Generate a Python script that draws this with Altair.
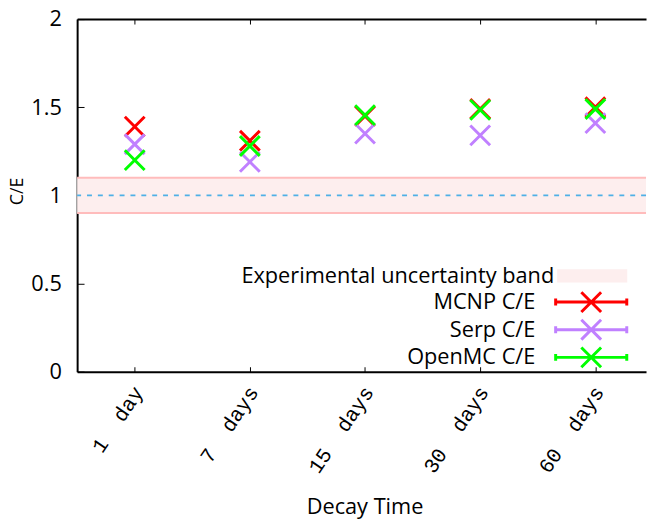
import json
import altair as alt
import pandas as pd

# ---- data ----
decay_times = ["1\u00a0 day", "7\u00a0 days", "15\u00a0 days", "30\u00a0 days", "60\u00a0 days"]
series_names = ["MCNP C/E", "Serp C/E", "OpenMC C/E"]
mcnp_ce = [1.39, 1.31, 1.45, 1.49, 1.50]
serp_ce = [1.29, 1.19, 1.35, 1.34, 1.41]
openmc_ce = [1.20, 1.28, 1.455, 1.485, 1.49]
series_colors = ["#ff0000", "#c080ff", "#00ff00"]
band_label = ["Experimental uncertainty band"]
band_low = [0.9]
band_high = [1.1]
reference_line = [1.0]
y_ticks = [0, 0.5, 1, 1.5, 2]
x_ticks = list(range(len(decay_times)))

# ---- tables ----
rows = []
for k, (name, vals) in enumerate(zip(series_names, [mcnp_ce, serp_ce, openmc_ce])):
    for i, v in enumerate(vals):
        rows.append({"series": name, "idx": i, "value": v, "order": k})
df = pd.DataFrame(rows)
band_df = pd.DataFrame({"label": band_label, "lo": band_low, "hi": band_high})
ref_df = pd.DataFrame({"ref": reference_line})

W, H = 576, 357
FONT = "Open Sans"
X_PATH = "M-1,-1L1,1M-1,1L1,-1"
# legend samples drawn to the right of the label (label on the left, gnuplot style)
EB_PATH = "M3.2,0H10.4M3.2,-0.35V0.35M10.4,-0.35V0.35M5.8,-1L7.8,1M5.8,1L7.8,-1"
RECT_PATH = "M1.4,-0.67H8.5V0.67H1.4Z"

xscale = alt.Scale(domain=[-0.5, 4.44], nice=False, zero=False)
yscale = alt.Scale(domain=[0, 2], nice=False, zero=False)
label_expr = json.dumps(decay_times, ensure_ascii=False) + "[datum.value]"

x_axis_main = alt.Axis(
    values=x_ticks, labelExpr=label_expr, labelAngle=304, labelAlign="right",
    labelBaseline="middle", labelFont="Liberation Mono", labelFontSize=21,
    labelColor="black", labelPadding=17, labelOffset=4, ticks=False, tickSize=0,
    domainColor="black", domainWidth=2, grid=False, labelOverlap=False,
    labelFlush=False, labelBound=False,
    title="Decay Time", titleFont=FONT, titleFontSize=22, titleFontWeight="normal",
    titleColor="black", titleX=291, titleY=144, titleBaseline="alphabetic",
)
y_axis_main = alt.Axis(
    values=y_ticks, format=".1~f", labelFont=FONT, labelFontSize=22,
    labelColor="black", labelPadding=16, ticks=False, tickSize=0,
    domainColor="black", domainWidth=2, grid=False, labelFlush=False,
    labelOverlap=False,
    title="C/E", titleFont=FONT, titleFontSize=18, titleFontWeight="normal",
    titleColor="black", titleX=-55, titleY=174, titleBaseline="alphabetic",
    titleAngle=270,
)

band = alt.Chart(band_df).mark_rect(opacity=1).encode(
    y=alt.Y("lo:Q", scale=yscale, axis=None),
    y2="hi:Q",
    fill=alt.Fill(
        "label:N", scale=alt.Scale(domain=band_label, range=["#fdeeee"]),
        legend=alt.Legend(
            title=None, orient="none", legendX=461, legendY=249, padding=0,
            symbolType=RECT_PATH, symbolSize=400, symbolStrokeWidth=0,
            labelFont=FONT, labelFontSize=22, labelColor="black",
            labelAlign="right", labelOffset=0, labelLimit=600,
        ),
    ),
)
band_lo = alt.Chart(band_df).mark_rule(color="#ffbcbc", strokeWidth=2).encode(
    y=alt.Y("lo:Q", scale=yscale, axis=None))
band_hi = alt.Chart(band_df).mark_rule(color="#ffbcbc", strokeWidth=2).encode(
    y=alt.Y("hi:Q", scale=yscale, axis=None))
ref = alt.Chart(ref_df).mark_rule(color="#4eb0e6", strokeWidth=2, strokeDash=[5, 6]).encode(
    y=alt.Y("ref:Q", scale=yscale, axis=None))

points = alt.Chart(df).mark_point(
    shape=X_PATH, size=400, filled=False, strokeWidth=3, opacity=1
).encode(
    x=alt.X("idx:Q", scale=xscale, axis=x_axis_main),
    y=alt.Y("value:Q", scale=yscale, axis=y_axis_main),
    color=alt.Color(
        "series:N", sort=series_names,
        scale=alt.Scale(domain=series_names, range=series_colors),
        legend=alt.Legend(
            title=None, orient="none", legendX=441, legendY=275, padding=0,
            symbolType=EB_PATH, symbolSize=400, symbolStrokeWidth=3,
            symbolFillColor="transparent", labelFont=FONT, labelFontSize=22,
            labelColor="black", labelAlign="right", labelOffset=0,
            labelLimit=600, rowPadding=-7,
        ),
    ),
    order=alt.Order("order:Q"),
)

tick_base = alt.Chart(df).mark_point(opacity=0)
inner_ticks = tick_base.encode(
    x=alt.X("idx:Q", scale=xscale, axis=alt.Axis(
        orient="top", offset=-H, values=x_ticks, labels=False, domain=False,
        tickSize=5, tickColor="black", grid=False, title="")),
    y=alt.Y("value:Q", scale=yscale, axis=alt.Axis(
        orient="right", offset=-W, values=y_ticks, labels=False, domain=False,
        tickSize=7, tickColor="black", grid=False, title="")),
)
top_border = tick_base.encode(
    x=alt.X("idx:Q", scale=xscale, axis=alt.Axis(
        orient="bottom", offset=-H, values=x_ticks, labels=False, domain=True,
        domainColor="black", domainWidth=2, tickSize=5, tickColor="black",
        grid=False, title="")),
    y=alt.Y("value:Q", scale=yscale, axis=None),
)

chart = alt.layer(band, band_lo, band_hi, ref, points, inner_ticks, top_border).resolve_axis(
    x="independent", y="independent"
).properties(
    width=W, height=H,
    autosize=alt.AutoSizeParams(type="none"),
    padding={"left": 70, "top": 8, "right": 2, "bottom": 151},
    background="white",
).configure_view(stroke="transparent")

chart.save("out.html", embed_options={"renderer": "svg", "actions": False})
